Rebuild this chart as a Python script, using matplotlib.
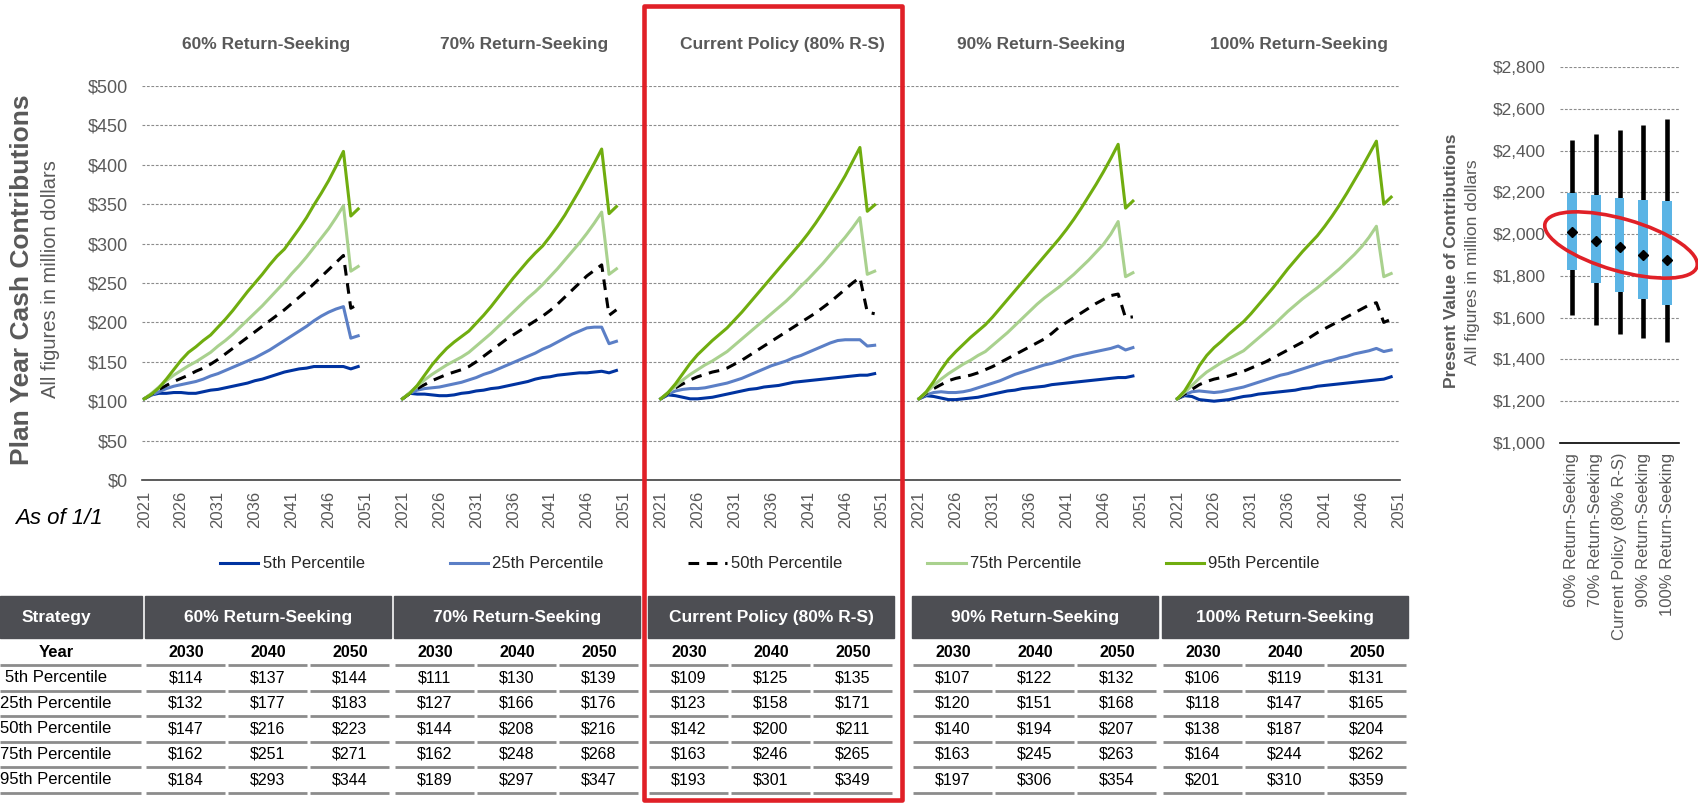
import matplotlib.pyplot as plt
import matplotlib.patches as patches
import numpy as np

plt.rcParams['font.family'] = ['Liberation Sans', 'DejaVu Sans']

W, H = 1698, 805

strategies = ["60% Return-Seeking", "70% Return-Seeking", "Current Policy (80% R-S)",
              "90% Return-Seeking", "100% Return-Seeking"]
percentiles = ["5th Percentile", "25th Percentile", "50th Percentile",
               "75th Percentile", "95th Percentile"]
years = list(range(2021, 2051))
table_years = [2030, 2040, 2050]

# plan year cash contributions ($M)
rs60_p5 = [103, 108, 110, 110, 111, 111, 110, 110, 112, 114, 115, 117, 119, 121, 123,
           126, 128, 131, 134, 137, 139, 141, 142, 144, 144, 144, 144, 144, 141, 144]
rs60_p25 = [103, 108, 112, 116, 119, 121, 123, 125, 128, 132, 135, 139, 143, 147, 151,
            155, 160, 165, 171, 177, 183, 189, 195, 202, 208, 213, 217, 220, 180, 183]
rs60_p50 = [103, 109, 115, 120, 125, 129, 133, 138, 142, 147, 153, 160, 167, 174, 181,
            188, 195, 202, 209, 216, 224, 232, 240, 249, 258, 267, 276, 285, 218, 223]
rs60_p75 = [103, 110, 118, 126, 133, 139, 145, 150, 156, 162, 170, 177, 185, 194, 203,
            212, 221, 231, 241, 251, 262, 272, 283, 295, 307, 319, 333, 348, 265, 271]
rs60_p95 = [103, 109, 117, 128, 140, 152, 162, 169, 177, 184, 194, 204, 215, 227, 239,
            250, 261, 273, 284, 293, 306, 319, 333, 349, 364, 380, 398, 417, 335, 344]

rs70_p5 = [103, 110, 109, 109, 108, 107, 107, 108, 110, 111, 113, 114, 116, 117, 119,
           121, 123, 125, 128, 130, 131, 133, 134, 135, 136, 136, 137, 138, 136, 139]
rs70_p25 = [103, 110, 114, 116, 117, 118, 120, 122, 124, 127, 130, 134, 137, 141, 145,
            149, 153, 157, 161, 166, 170, 175, 180, 185, 189, 193, 194, 194, 173, 176]
rs70_p50 = [103, 110, 116, 121, 126, 130, 134, 137, 140, 144, 150, 157, 164, 171, 178,
            184, 190, 196, 202, 208, 215, 223, 232, 241, 250, 259, 266, 273, 209, 216]
rs70_p75 = [103, 111, 119, 127, 134, 140, 146, 151, 156, 162, 170, 178, 186, 195, 204,
            213, 222, 231, 239, 248, 258, 268, 279, 290, 301, 313, 326, 340, 261, 268]
rs70_p95 = [103, 110, 120, 133, 146, 157, 167, 175, 182, 189, 199, 209, 220, 232, 244,
            256, 267, 278, 288, 297, 309, 322, 336, 352, 368, 385, 402, 420, 338, 347]

cur_p5 = [103, 108, 107, 105, 103, 103, 104, 105, 107, 109, 111, 113, 115, 116, 118,
          119, 120, 122, 124, 125, 126, 127, 128, 129, 130, 131, 132, 133, 133, 135]
cur_p25 = [103, 109, 113, 115, 116, 116, 117, 119, 121, 123, 126, 129, 133, 137, 141,
           145, 148, 151, 155, 158, 162, 166, 170, 174, 177, 178, 178, 178, 170, 171]
cur_p50 = [103, 110, 117, 122, 127, 131, 134, 137, 139, 142, 147, 152, 158, 164, 170,
           176, 182, 188, 194, 200, 206, 212, 219, 226, 234, 242, 250, 257, 213, 211]
cur_p75 = [103, 111, 119, 127, 134, 140, 146, 151, 157, 163, 171, 179, 187, 195, 203,
           211, 219, 227, 236, 246, 255, 265, 275, 286, 297, 308, 320, 333, 261, 265]
cur_p95 = [103, 111, 122, 135, 148, 159, 168, 177, 185, 193, 203, 213, 224, 235, 246,
           257, 268, 279, 290, 301, 313, 326, 340, 355, 370, 386, 404, 422, 341, 349]

rs90_p5 = [103, 107, 106, 104, 102, 102, 103, 104, 105, 107, 109, 111, 113, 114, 116,
           117, 118, 119, 121, 122, 123, 124, 125, 126, 127, 128, 129, 130, 130, 132]
rs90_p25 = [103, 108, 111, 112, 111, 111, 112, 114, 117, 120, 123, 126, 130, 134, 137,
            140, 143, 146, 148, 151, 154, 157, 159, 161, 163, 165, 167, 170, 165, 168]
rs90_p50 = [103, 110, 116, 121, 126, 129, 131, 133, 136, 140, 144, 149, 154, 159, 164,
            169, 174, 179, 186, 194, 200, 206, 212, 218, 224, 229, 234, 236, 206, 207]
rs90_p75 = [103, 111, 120, 128, 135, 141, 147, 152, 158, 163, 171, 179, 187, 196, 205,
            214, 223, 231, 238, 245, 253, 261, 270, 279, 289, 299, 312, 328, 258, 263]
rs90_p95 = [103, 112, 125, 140, 153, 163, 172, 181, 189, 197, 207, 218, 229, 240, 251,
            262, 273, 284, 295, 306, 318, 331, 345, 360, 375, 391, 408, 426, 345, 354]

rs100_p5 = [103, 107, 106, 102, 101, 100, 101, 102, 104, 106, 107, 109, 110, 111, 112,
            113, 114, 116, 117, 119, 120, 121, 122, 123, 124, 125, 126, 127, 128, 131]
rs100_p25 = [103, 108, 112, 113, 112, 111, 112, 114, 116, 118, 121, 124, 127, 130, 133,
             135, 138, 141, 144, 147, 150, 152, 155, 157, 160, 162, 164, 167, 163, 165]
rs100_p50 = [103, 109, 115, 121, 125, 128, 130, 132, 135, 138, 142, 146, 150, 155, 160,
             165, 170, 175, 181, 187, 192, 197, 202, 207, 212, 217, 222, 225, 200, 204]
rs100_p75 = [103, 111, 120, 129, 137, 143, 149, 154, 159, 164, 172, 180, 188, 196, 205,
             214, 222, 230, 237, 244, 252, 260, 268, 277, 286, 296, 308, 322, 258, 262]
rs100_p95 = [103, 113, 128, 145, 158, 168, 176, 185, 193, 201, 211, 222, 233, 244, 256,
             268, 279, 290, 300, 310, 322, 335, 349, 364, 380, 396, 413, 430, 350, 359]

# present value of contributions ($M)
pv_low = [1612, 1564, 1521, 1501, 1485]
pv_q1 = [1830, 1764, 1724, 1687, 1660]
pv_mid = [2010, 1966, 1936, 1902, 1877]
pv_q3 = [2199, 2186, 2173, 2162, 2157]
pv_high = [2450, 2478, 2499, 2524, 2550]

series = [
    [rs60_p5, rs60_p25, rs60_p50, rs60_p75, rs60_p95],
    [rs70_p5, rs70_p25, rs70_p50, rs70_p75, rs70_p95],
    [cur_p5, cur_p25, cur_p50, cur_p75, cur_p95],
    [rs90_p5, rs90_p25, rs90_p50, rs90_p75, rs90_p95],
    [rs100_p5, rs100_p25, rs100_p50, rs100_p75, rs100_p95],
]

pct_colors = ["#0033A0", "#5B7FC6", "black", "#A9D18E", "#70AD0F"]
pct_styles = ["-", "-", (0, (3.5, 2.5)), "-", "-"]
gray = "#595959"


def px_rect(left, top, right, bottom):
    return [left / W, 1 - bottom / H, (right - left) / W, (bottom - top) / H]


fig = plt.figure(figsize=(W / 100, H / 100), dpi=100)

# line charts, one category axis with 35 slots per strategy
ax = fig.add_axes(px_rect(142, 86, 1400, 480))
slot = 35
handles = []
for p, strat in enumerate(series):
    x = np.arange(len(years)) + slot * p
    for k, vals in enumerate(strat):
        ln, = ax.plot(x, vals, color=pct_colors[k], linestyle=pct_styles[k], lw=2.2, zorder=3)
        if p == 0:
            handles.append(ln)
    ax.text(slot * p + 16.5, 553, strategies[p], ha="center", va="center",
            fontsize=12.5, fontweight="bold", color=gray, clip_on=False)

ax.set_xlim(-0.3, 170.2)
ax.set_ylim(0, 500)
ax.set_yticks(range(0, 501, 50))
ax.set_yticklabels(["${}".format(v) for v in range(0, 501, 50)])
xt = list(range(0, 171, 5))
ax.set_xticks(xt)
ax.set_xticklabels([str(2021 + i % slot) for i in xt], rotation=90)
ax.tick_params(axis="both", length=0, labelcolor=gray)
ax.tick_params(axis="y", labelsize=13, pad=10)
ax.tick_params(axis="x", labelsize=12, pad=8)
ax.yaxis.grid(True, color="#8c8c8c", lw=0.8, linestyle=(0, (2.5, 1.5)))
ax.set_axisbelow(True)
for s in ["top", "right", "left"]:
    ax.spines[s].set_visible(False)
ax.spines["bottom"].set_color("#404040")
ax.spines["bottom"].set_linewidth(1.2)

fig.text(22 / W, 1 - 280 / H, "Plan Year Cash Contributions", rotation=90, ha="center",
         va="center", fontsize=19, fontweight="bold", color=gray)
fig.text(51 / W, 1 - 279 / H, "All figures in million dollars", rotation=90, ha="center",
         va="center", fontsize=14.5, color=gray)
fig.text(15 / W, 1 - 519 / H, "As of 1/1", ha="left", va="center", fontsize=16,
         style="italic", color="black")

leg = fig.legend(handles, percentiles, loc="center", bbox_to_anchor=(770 / W, 1 - 564 / H),
                 ncol=5, frameon=False, fontsize=12, handlelength=2.3, handletextpad=0.25,
                 columnspacing=5.1)
for t in leg.get_texts():
    t.set_color("#262626")

# present value range chart
bx = fig.add_axes(px_rect(1560, 67, 1679, 443))
pos = np.arange(len(strategies))
bx.vlines(pos, pv_low, pv_high, color="black", lw=3.3, zorder=2)
bx.bar(pos, np.subtract(pv_q3, pv_q1), bottom=pv_q1, width=0.42, color="#5BB4E5", zorder=3)
bx.plot(pos, pv_mid, "D", color="black", ms=5.5, zorder=4)
bx.set_xlim(-0.5, len(strategies) - 0.5)
bx.set_ylim(1000, 2800)
bx.set_yticks(range(1000, 2801, 200))
bx.set_yticklabels(["${:,}".format(v) for v in range(1000, 2801, 200)])
bx.set_xticks(pos)
bx.set_xticklabels(strategies, rotation=90)
bx.tick_params(axis="both", length=0, labelcolor=gray)
bx.tick_params(axis="y", labelsize=12.5, pad=10)
bx.tick_params(axis="x", labelsize=12, pad=7)
bx.yaxis.grid(True, color="#8c8c8c", lw=0.8, linestyle=(0, (2.5, 1.5)))
bx.set_axisbelow(True)
for s in ["top", "right", "left"]:
    bx.spines[s].set_visible(False)
bx.spines["bottom"].set_color("black")
bx.spines["bottom"].set_linewidth(1.2)

fig.text(1452 / W, 1 - 261 / H, "Present Value of Contributions", rotation=90, ha="center",
         va="center", fontsize=12.5, fontweight="bold", color=gray)
fig.text(1472 / W, 1 - 262 / H, "All figures in million dollars", rotation=90, ha="center",
         va="center", fontsize=12.5, color=gray)

# overlay in pixel coordinates: table and red call-outs
ov = fig.add_axes([0, 0, 1, 1])
ov.set_xlim(0, W)
ov.set_ylim(H, 0)
ov.axis("off")
ov.patch.set_alpha(0)

hdr_color = "#4D4E53"
sep_color = "#8C8C8C"
grp_x = [145, 394, 648, 912, 1162]
grp_w = 246
col_w = grp_w / 3
hdr_top, hdr_bot = 596, 638
row_h = 25.5
row_y = [652 + row_h * i for i in range(6)]
lab_x = 56

ov.add_patch(patches.Rectangle((0, hdr_top), 142, hdr_bot - hdr_top, color=hdr_color))
ov.text(lab_x, (hdr_top + hdr_bot) / 2, "Strategy", ha="center", va="center",
        color="white", fontsize=12.5, fontweight="bold")
for g, gx in enumerate(grp_x):
    ov.add_patch(patches.Rectangle((gx, hdr_top), grp_w, hdr_bot - hdr_top, color=hdr_color))
    ov.text(gx + grp_w / 2, (hdr_top + hdr_bot) / 2, strategies[g], ha="center", va="center",
            color="white", fontsize=12.5, fontweight="bold")

row_labels = ["Year"] + percentiles
for r, ry in enumerate(row_y):
    sy = ry + 13
    ov.plot([0, 141], [sy, sy], color=sep_color, lw=2, solid_capstyle="butt")
    ov.text(lab_x, ry, row_labels[r], ha="center", va="center", color="black",
            fontsize=12, fontweight="bold" if r == 0 else "normal")
    for g, gx in enumerate(grp_x):
        for c, yr in enumerate(table_years):
            cx = gx + c * col_w
            ov.plot([cx + 1.5, cx + col_w - 1.5], [sy, sy], color=sep_color, lw=2,
                    solid_capstyle="butt")
            if r == 0:
                txt, fw = str(yr), "bold"
            else:
                txt = "${}".format(series[g][r - 1][years.index(yr)])
                fw = "normal"
            ov.text(cx + col_w / 2, ry, txt, ha="center", va="center", color="black",
                    fontsize=11.5, fontweight=fw)

ov.add_patch(patches.Rectangle((644, 6), 258, 794, fill=False, ec="#E02027", lw=3.3,
                               joinstyle="round"))
ov.add_patch(patches.Ellipse((1621, 245), 158, 52, angle=16, fill=False, ec="#E02027", lw=2.6))

fig.savefig("out.png", dpi=100)
